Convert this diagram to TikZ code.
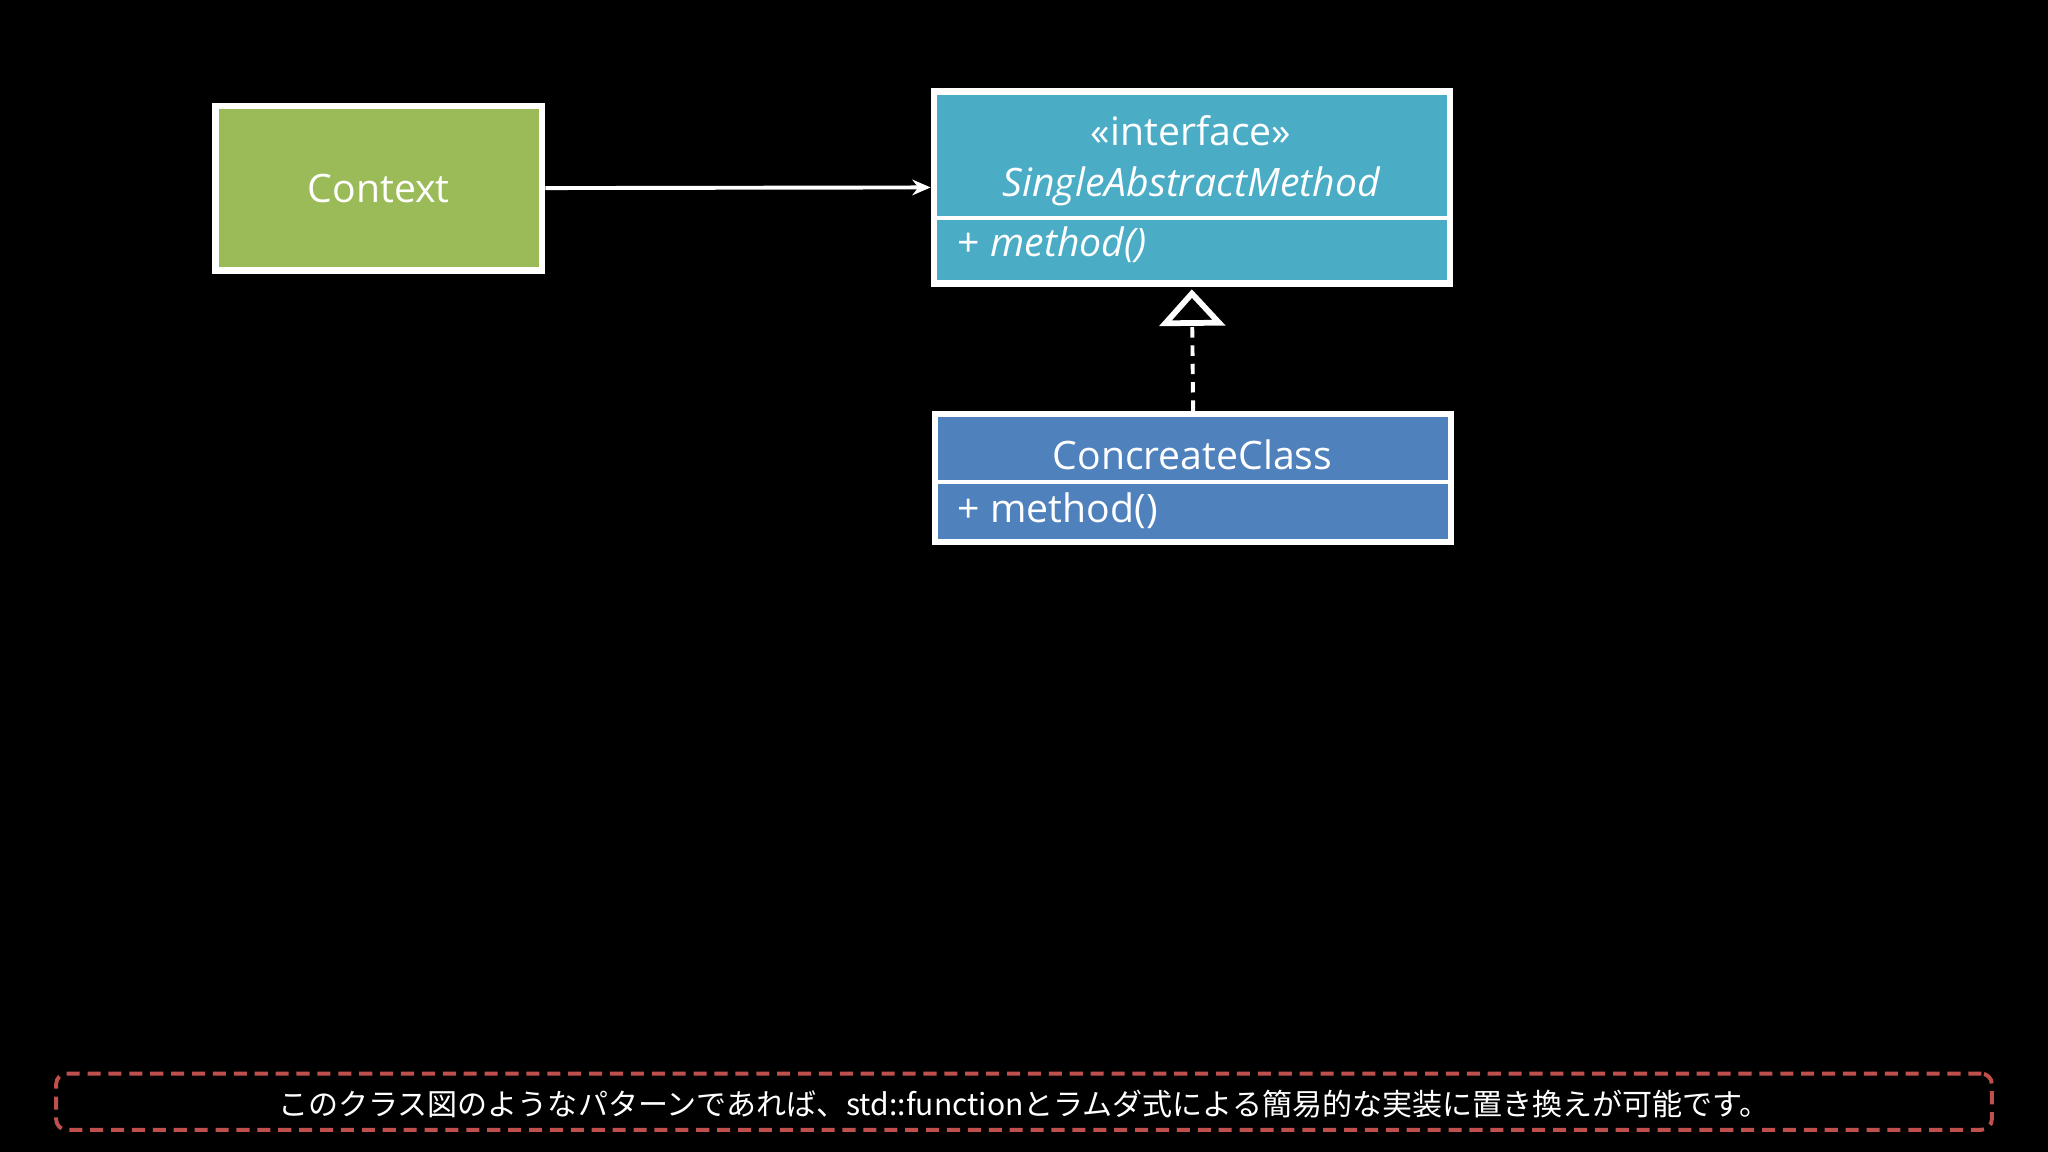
\documentclass[tikz,border=0pt]{standalone}
\usepackage{fontspec}
\setmainfont{Open Sans}
\newfontfamily\cjk{Noto Sans CJK JP}
\usetikzlibrary{arrows.meta}
\definecolor{ctxg}{HTML}{9BBB59}
\definecolor{ifb}{HTML}{4BACC6}
\definecolor{ccb}{HTML}{4F81BD}
\definecolor{rd}{HTML}{C0504D}
\begin{document}
\begin{tikzpicture}[x=0.5pt,y=-0.5pt,
  box/.style={draw=white,line width=2.5pt,inner sep=0pt,text=white},
  lbl/.style={text=white,inner sep=0pt,font=\fontsize{15pt}{18pt}\selectfont}]
\fill[black] (0,0) rectangle (1568,882);
\useasboundingbox (0,0) rectangle (1568,882);
\node[box,fill=ctxg,minimum width=125pt,minimum height=63pt,font=\fontsize{15pt}{18pt}\selectfont] (ctx) at (290,144) {Context};
\node[box,fill=ifb,minimum width=197.5pt,minimum height=73.5pt] (ifc) at (912.5,143.5) {};
\draw[white,line width=1.5pt] (715,167) -- (1110,167);
\node[lbl] (st) at (912,100) {<<interface>>};
\node[lbl] (nm) at (912,143) {\itshape SingleAbstractMethod};
\node[lbl,anchor=west] (m1) at (733,187) {+ \itshape method()};
\node[box,fill=ccb,minimum width=197.5pt,minimum height=49pt] (cc) at (913.5,366) {};
\draw[white,line width=1.5pt] (716,369) -- (1111,369);
\node[lbl] (cn) at (913,348) {ConcreateClass};
\node[lbl,anchor=west] (m2) at (733,391) {+ method()};
\draw[white,line width=1.5pt,-{Stealth[length=7pt,width=6pt]}] (ctx.east) -- (ifc.west);
\draw[white,line width=1.5pt,dash pattern=on 4pt off 3pt,-{Triangle[open,length=14pt,width=25pt,line width=2.2pt,fill=black]}] (cc.north) -- ([yshift=-1pt]ifc.south);
\node[draw=rd,line width=1.5pt,dash pattern=on 5pt off 3pt,rounded corners=4pt,minimum width=741pt,minimum height=21.5pt,inner sep=0pt] (note) at (784,843.5) {};
\node[text=white,inner sep=0pt,font=\cjk\fontsize{11.5pt}{14pt}\selectfont] (nt) at (784,845) {このクラス図のようなパターンであれば、std::functionとラムダ式による簡易的な実装に置き換えが可能です。};
\end{tikzpicture}
\end{document}
